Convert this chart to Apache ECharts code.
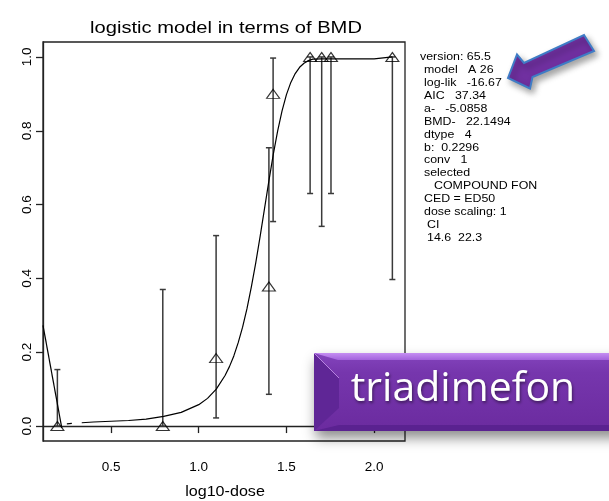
<!DOCTYPE html>
<html><head><meta charset="utf-8">
<script src="https://cdn.jsdelivr.net/npm/echarts@6/dist/echarts.min.js"></script>
<style>html,body{margin:0;padding:0;background:#fff}#c{width:609px;height:501px}</style>
</head><body><div id="c"></div>
<script>
// ---- data ----
const doseLog  = [0.194, 0.795, 1.099, 1.400, 1.424, 1.635, 1.701, 1.754, 2.104];
const respFrac = [0.0,   0.0,   0.184, 0.378, 0.900, 1.0,   1.0,   1.0,   1.0];
const ciLow    = [0.0,   0.0,   0.022, 0.086, 0.554, 0.630, 0.541, 0.630, 0.397];
const ciHigh   = [0.153, 0.370, 0.516, 0.754, 0.997, 1.0,   1.0,   1.0,   1.0];

const curveX = [0.333,0.40,0.50,0.60,0.70,0.80,0.90,1.00,1.05,1.10,1.15,1.175,1.20,1.225,1.25,1.275,1.30,1.325,1.35,1.375,1.40,1.425,1.45,1.475,1.50,1.525,1.55,1.575,1.60,1.625,1.65,1.70,1.75,1.85,2.00,2.104];
const curveY = [0.009,0.011,0.013,0.015,0.019,0.026,0.037,0.058,0.075,0.100,0.137,0.161,0.190,0.226,0.268,0.318,0.377,0.442,0.514,0.589,0.664,0.736,0.800,0.854,0.898,0.931,0.955,0.972,0.983,0.990,0.994,0.995,0.995,0.995,0.995,1.0];

const leftLineX = [0.112, 0.219];
const leftLineY = [0.273, -0.005];
const dashX = [0.248, 0.333];
const dashY = [0.006, 0.009];

const xTicks = [0.5, 1.0, 1.5, 2.0];
const yTicks = [0.0, 0.2, 0.4, 0.6, 0.8, 1.0];

const titleText = 'logistic model in terms of BMD';
const xName = 'log10-dose';
const badgeText = 'triadimefon';
const infoLines = [
  ['version: 65.5', 0],
  ['model   A 26', 4],
  ['log-lik   -16.67', 4],
  ['AIC   37.34', 4],
  ['a-   -5.0858', 4],
  ['BMD-   22.1494', 4],
  ['dtype   4', 4],
  ['b:  0.2296', 4],
  ['conv   1', 4],
  ['selected', 4],
  ['COMPOUND FON', 14],
  ['CED = ED50', 4],
  ['dose scaling: 1', 4],
  ['CI', 7],
  ['14.6  22.3', 7]
];

// ---- build chart ----
const chart = echarts.init(document.getElementById('c'), null, {renderer: 'canvas'});
const pts = doseLog.map((x, i) => [x, respFrac[i]]);
const bars = doseLog.map((x, i) => [x, ciLow[i], ciHigh[i]]);
const curve = curveX.map((x, i) => [x, curveY[i]]);
const leftLine = leftLineX.map((x, i) => [x, leftLineY[i]]);
const dash = dashX.map((x, i) => [x, dashY[i]]);

const FONT = '"Liberation Sans", Arial, sans-serif';
const graphics = [];
graphics.push({type: 'text', x: 226, y: 28, scaleX: 1.22, z: 100,
  style: {text: titleText, x: 0, y: 0, fill: '#000', font: '16.5px ' + FONT,
    align: 'center', verticalAlign: 'middle', textAlign: 'center', textVerticalAlign: 'middle'}});
graphics.push({type: 'text', x: 225, y: 492, scaleX: 1.15, z: 100,
  style: {text: xName, x: 0, y: 0, fill: '#000', font: '14px ' + FONT,
    align: 'center', verticalAlign: 'middle', textAlign: 'center', textVerticalAlign: 'middle'}});
infoLines.forEach((l, i) => {
  graphics.push({type: 'text', x: 420 + l[1], y: 57 + i * 12.9, z: 100, scaleX: 1.05,
    style: {text: l[0], x: 0, y: 0, fill: '#000', font: '11.8px ' + FONT,
      align: 'left', verticalAlign: 'middle', textAlign: 'left', textVerticalAlign: 'middle'}});
});
// arrow
graphics.push({type: 'polygon', z: 110,
  shape: {points: [[508,78],[517,54.5],[524,63],[584,35],[594,51],[532.5,77],[530,88.5]]},
  style: {fill: '#7030A0', stroke: '#3F7CC6', lineWidth: 2, lineJoin: 'miter',
    shadowBlur: 6, shadowOffsetX: 3, shadowOffsetY: 4, shadowColor: 'rgba(0,0,0,0.35)'}});
// badge
graphics.push({type: 'rect', z: 110, shape: {x: 314, y: 353, width: 310, height: 78},
  style: {fill: new echarts.graphic.LinearGradient(0, 0, 0, 1, [
      {offset: 0, color: '#8444bd'}, {offset: 0.25, color: '#7636ad'}, {offset: 1, color: '#6b2b9f'}]),
    shadowBlur: 12, shadowOffsetX: 2, shadowOffsetY: 7, shadowColor: 'rgba(0,0,0,0.45)'}});
graphics.push({type: 'polygon', z: 111, shape: {points: [[314,353],[624,353],[624,360],[338,360]]},
  style: {fill: new echarts.graphic.LinearGradient(0, 0, 0, 1, [
      {offset: 0, color: '#c58ef2'}, {offset: 1, color: '#a262dc'}])}});
graphics.push({type: 'polygon', z: 111, shape: {points: [[314,353],[339,378],[339,408],[314,431]]},
  style: {fill: '#5f2696'}});
graphics.push({type: 'polygon', z: 111, shape: {points: [[314,431],[339,425],[624,425],[624,431]]},
  style: {fill: '#5a2290'}});
graphics.push({type: 'line', z: 112, shape: {x1: 314, y1: 353, x2: 339, y2: 378},
  style: {stroke: 'rgba(215,170,250,0.7)', lineWidth: 1}});
graphics.push({type: 'text', x: 463, y: 389, z: 113,
  style: {text: badgeText, x: 0, y: 0, fill: '#ffffff', font: '41px "Open Sans", sans-serif',
    align: 'center', verticalAlign: 'middle', textAlign: 'center', textVerticalAlign: 'middle',
    textShadowBlur: 3, textShadowOffsetX: 1, textShadowOffsetY: 2, textShadowColor: 'rgba(0,0,0,0.45)'}});

chart.setOption({
  animation: false,
  backgroundColor: '#fff',
  grid: {left: 43, right: 204, top: 42, bottom: 60, show: true, borderColor: '#222', borderWidth: 1.3, backgroundColor: 'rgba(0,0,0,0)'},
  xAxis: {type: 'value', min: 0.112, max: 2.176,
    axisLine: {show: true, lineStyle: {color: '#222', width: 1.3}},
    axisTick: {show: true, inside: false, length: 7, customValues: xTicks, lineStyle: {color: '#222', width: 1.3}},
    axisLabel: {customValues: xTicks, margin: 19, color: '#000', fontSize: 13.5, fontFamily: FONT,
      formatter: v => Number(v).toFixed(1)},
    splitLine: {show: false}},
  yAxis: {type: 'value', min: -0.0405, max: 1.0405,
    axisLine: {show: true, lineStyle: {color: '#222', width: 1.3}},
    axisTick: {show: true, inside: false, length: 7, customValues: yTicks, lineStyle: {color: '#222', width: 1.3}},
    axisLabel: {customValues: yTicks, rotate: 90, margin: 9, color: '#000', fontSize: 13.5, fontFamily: FONT,
      formatter: v => Number(v).toFixed(1)},
    splitLine: {show: false}},
  series: [
    {type: 'custom', data: bars, clip: false, z: 2,
      renderItem: function (params, api) {
        const x = api.value(0), lo = api.value(1), hi = api.value(2);
        const a = api.coord([x, lo]), b = api.coord([x, hi]);
        const w = 3;
        const st = {stroke: '#3a3a3a', lineWidth: 1.5};
        return {type: 'group', children: [
          {type: 'line', shape: {x1: a[0], y1: a[1], x2: b[0], y2: b[1]}, style: st},
          {type: 'line', shape: {x1: a[0] - w, y1: a[1], x2: a[0] + w, y2: a[1]}, style: st},
          {type: 'line', shape: {x1: b[0] - w, y1: b[1], x2: b[0] + w, y2: b[1]}, style: st}
        ]};
      }},
    {type: 'line', data: curve, showSymbol: false, smooth: false, z: 3,
      lineStyle: {color: '#000', width: 1.2}},
    {type: 'line', data: leftLine, showSymbol: false, z: 3,
      lineStyle: {color: '#000', width: 1.2}},
    {type: 'line', data: dash, showSymbol: false, z: 3,
      lineStyle: {color: '#000', width: 1.2, type: [5, 10]}},
    {type: 'scatter', data: pts, symbol: 'triangle', symbolSize: [13, 9], z: 4,
      itemStyle: {color: 'rgba(0,0,0,0)', borderColor: '#000', borderWidth: 1.1}}
  ],
  graphic: {elements: graphics}
});
</script>
</body></html>
